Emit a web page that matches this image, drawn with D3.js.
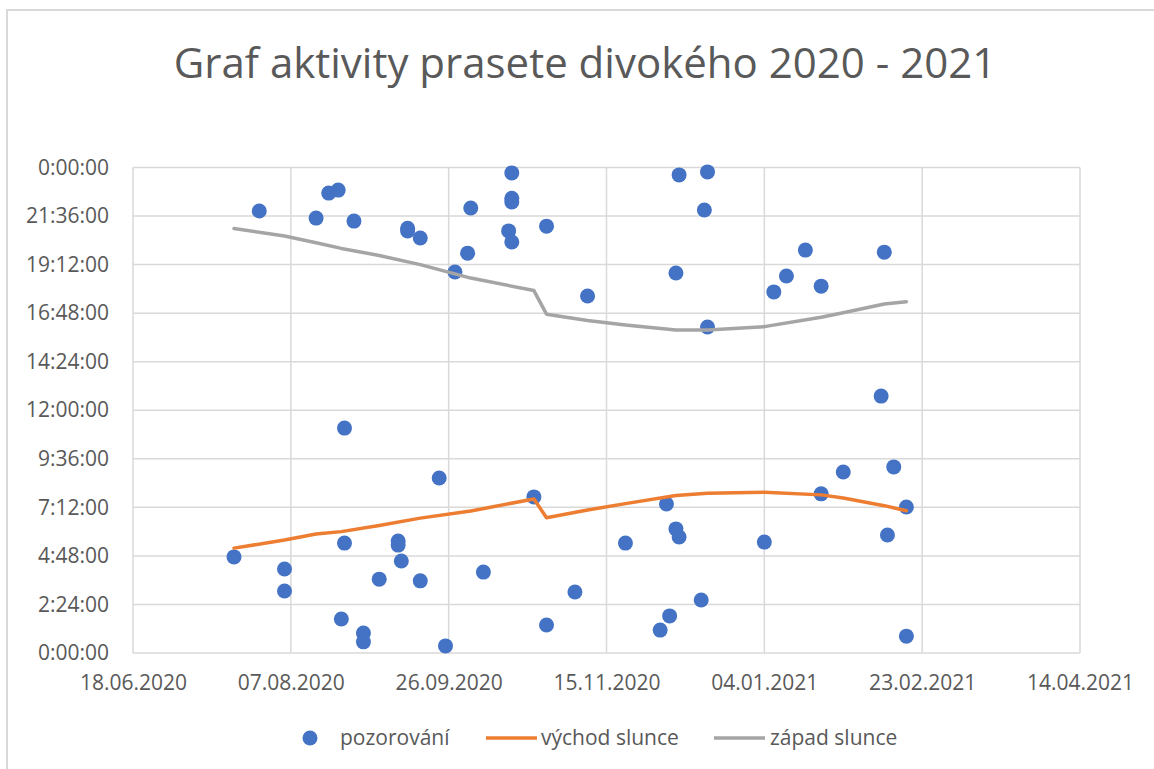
<!DOCTYPE html>
<html>
<head>
<meta charset="utf-8">
<style>
  body {
    margin: 0;
    background: #fff;
    font-family: "Open Sans", sans-serif;
  }
  text {
    fill: #595959;
  }
  .grid line {
    stroke: #d9d9d9;
    stroke-width: 1.5px;
  }
</style>
<script src="https://cdn.jsdelivr.net/npm/d3@7"></script>
</head>
<body>
<svg width="1154" height="769"></svg>
<script>
// observations (date, time of day)
var obsDates = [
  "2020-07-20", "2020-07-28", "2020-08-05", "2020-08-05", "2020-08-15", "2020-08-19",
  "2020-08-22", "2020-08-23", "2020-08-24", "2020-08-24", "2020-08-27", "2020-08-30",
  "2020-08-30", "2020-09-04", "2020-09-10", "2020-09-10", "2020-09-11", "2020-09-13",
  "2020-09-13", "2020-09-17", "2020-09-17", "2020-09-23", "2020-09-25", "2020-09-28",
  "2020-10-02", "2020-10-03", "2020-10-07", "2020-10-15", "2020-10-16", "2020-10-16",
  "2020-10-16", "2020-10-16", "2020-10-23", "2020-10-27", "2020-10-27", "2020-11-05",
  "2020-11-09", "2020-11-21", "2020-12-02", "2020-12-04", "2020-12-05", "2020-12-07",
  "2020-12-07", "2020-12-08", "2020-12-08", "2020-12-15", "2020-12-16", "2020-12-17",
  "2020-12-17", "2021-01-04", "2021-01-07", "2021-01-11", "2021-01-17", "2021-01-22",
  "2021-01-22", "2021-01-29", "2021-02-10", "2021-02-11", "2021-02-12", "2021-02-14",
  "2021-02-18", "2021-02-18"
];
var obsTimes = [
  "4:45", "21:51", "4:09", "3:04", "21:30", "22:44",
  "22:53", "1:41", "11:07", "5:26", "21:21", "0:59",
  "0:33", "3:39", "5:32", "5:20", "4:33", "21:00",
  "20:52", "3:34", "20:31", "8:39", "0:21", "18:50",
  "19:46", "22:00", "4:00", "20:52", "20:19", "23:44",
  "22:29", "22:18", "7:43", "21:06", "1:23", "3:01",
  "17:39", "5:26", "1:08", "7:22", "1:50", "6:08",
  "18:47", "5:44", "23:38", "2:37", "21:54", "23:47",
  "16:07", "5:29", "17:51", "18:38", "19:55", "18:08",
  "7:52", "8:57", "12:42", "19:49", "5:50", "9:12",
  "7:13", "0:50"
];

// sunrise / sunset at selected observation dates
var sunDates = [
  "2020-07-20", "2020-08-05", "2020-08-15", "2020-08-23", "2020-09-04", "2020-09-17",
  "2020-10-03", "2020-10-23", "2020-10-27", "2020-11-09", "2020-11-21", "2020-12-07",
  "2020-12-17", "2021-01-04", "2021-01-22", "2021-01-29", "2021-02-11", "2021-02-18"
];
var sunrise = [
  "5:11", "5:35", "5:53", "6:00", "6:18", "6:40",
  "7:01", "7:37", "6:41", "7:04", "7:23", "7:47",
  "7:54", "7:57", "7:49", "7:40", "7:17", "7:02"
];
var sunset = [
  "20:59", "20:37", "20:17", "20:00", "19:39", "19:12",
  "18:32", "17:55", "16:45", "16:26", "16:13", "15:58",
  "15:58", "16:08", "16:36", "16:49", "17:15", "17:22"
];

var xTickLabels = ["18.06.2020", "07.08.2020", "26.09.2020", "15.11.2020",
                   "04.01.2021", "23.02.2021", "14.04.2021"];
var yTickLabels = ["0:00:00", "2:24:00", "4:48:00", "7:12:00", "9:36:00", "12:00:00",
                   "14:24:00", "16:48:00", "19:12:00", "21:36:00", "0:00:00"];
var yTickHours = [0, 2.4, 4.8, 7.2, 9.6, 12, 14.4, 16.8, 19.2, 21.6, 24];

var parseDate = d3.utcParse("%Y-%m-%d"),
    parseTick = d3.utcParse("%d.%m.%Y");

function hours(s) {
  var p = s.split(":");
  return +p[0] + (+p[1]) / 60;
}

var svg = d3.select("svg");

var plotLeft = 133, plotRight = 1080, plotTop = 167.5, plotBottom = 653;

var xTicks = xTickLabels.map(parseTick);
var x = d3.scaleUtc()
    .domain([xTicks[0], xTicks[xTicks.length - 1]])
    .range([plotLeft, plotRight]);
var y = d3.scaleLinear()
    .domain([0, 24])
    .range([plotBottom, plotTop]);

// chart border
svg.append("rect")
    .attr("x", 7).attr("y", 10)
    .attr("width", 1200).attr("height", 800)
    .attr("fill", "none")
    .attr("stroke", "#d9d9d9")
    .attr("stroke-width", 2);

// title
svg.append("text")
    .attr("x", 585)
    .attr("y", 78)
    .attr("text-anchor", "middle")
    .style("font-size", "42px")
    .text("Graf aktivity prasete divokého 2020 - 2021");

// grid
var grid = svg.append("g").attr("class", "grid");
grid.selectAll("line.h")
    .data(yTickHours)
    .enter().append("line")
    .attr("class", "h")
    .attr("x1", plotLeft).attr("x2", plotRight)
    .attr("y1", function(d) { return y(d); })
    .attr("y2", function(d) { return y(d); });
grid.selectAll("line.v")
    .data(xTicks)
    .enter().append("line")
    .attr("class", "v")
    .attr("y1", plotTop).attr("y2", plotBottom)
    .attr("x1", function(d) { return x(d); })
    .attr("x2", function(d) { return x(d); });

// axes
var yAxis = d3.axisLeft(y)
    .tickValues(yTickHours)
    .tickSize(0)
    .tickPadding(24)
    .tickFormat(function(d, i) { return yTickLabels[i]; });
var gy = svg.append("g")
    .attr("transform", "translate(" + plotLeft + ",0)")
    .call(yAxis);
gy.select(".domain").remove();
gy.selectAll("text")
    .style("font-size", "21px")
    .style("font-family", "Open Sans")
    .attr("fill", "#595959");

var xAxis = d3.axisBottom(x)
    .tickValues(xTicks)
    .tickSize(0)
    .tickPadding(22)
    .tickFormat(function(d, i) { return xTickLabels[i]; });
var gx = svg.append("g")
    .attr("transform", "translate(0," + plotBottom + ")")
    .call(xAxis);
gx.select(".domain").remove();
gx.selectAll("text")
    .style("font-size", "21px")
    .style("font-family", "Open Sans")
    .attr("fill", "#595959");

// observations
var obs = obsDates.map(function(d, i) {
  return { date: parseDate(d), h: hours(obsTimes[i]) };
});
svg.append("g")
    .selectAll("circle")
    .data(obs)
    .enter().append("circle")
    .attr("cx", function(d) { return x(d.date); })
    .attr("cy", function(d) { return y(d.h); })
    .attr("r", 7.5)
    .attr("fill", "#4472c4");

// sun lines
var rise = sunDates.map(function(d, i) { return { date: parseDate(d), h: hours(sunrise[i]) }; });
var set = sunDates.map(function(d, i) { return { date: parseDate(d), h: hours(sunset[i]) }; });
var line = d3.line()
    .x(function(d) { return x(d.date); })
    .y(function(d) { return y(d.h); });

svg.append("path")
    .datum(rise)
    .attr("d", line)
    .attr("fill", "none")
    .attr("stroke", "#ed7d31")
    .attr("stroke-width", 3.5)
    .attr("stroke-linejoin", "round")
    .attr("stroke-linecap", "round");
svg.append("path")
    .datum(set)
    .attr("d", line)
    .attr("fill", "none")
    .attr("stroke", "#a5a5a5")
    .attr("stroke-width", 3.5)
    .attr("stroke-linejoin", "round")
    .attr("stroke-linecap", "round");

// legend
var legend = svg.append("g").style("font-size", "21px");
legend.append("circle")
    .attr("cx", 310).attr("cy", 738).attr("r", 7.5)
    .attr("fill", "#4472c4");
legend.append("text")
    .attr("x", 340).attr("y", 745)
    .text("pozorování");
legend.append("line")
    .attr("x1", 486).attr("x2", 537).attr("y1", 738).attr("y2", 738)
    .attr("stroke", "#ed7d31").attr("stroke-width", 3.5);
legend.append("text")
    .attr("x", 541).attr("y", 745)
    .text("východ slunce");
legend.append("line")
    .attr("x1", 714).attr("x2", 765).attr("y1", 738).attr("y2", 738)
    .attr("stroke", "#a5a5a5").attr("stroke-width", 3.5);
legend.append("text")
    .attr("x", 770).attr("y", 745)
    .text("západ slunce");
</script>
</body>
</html>
